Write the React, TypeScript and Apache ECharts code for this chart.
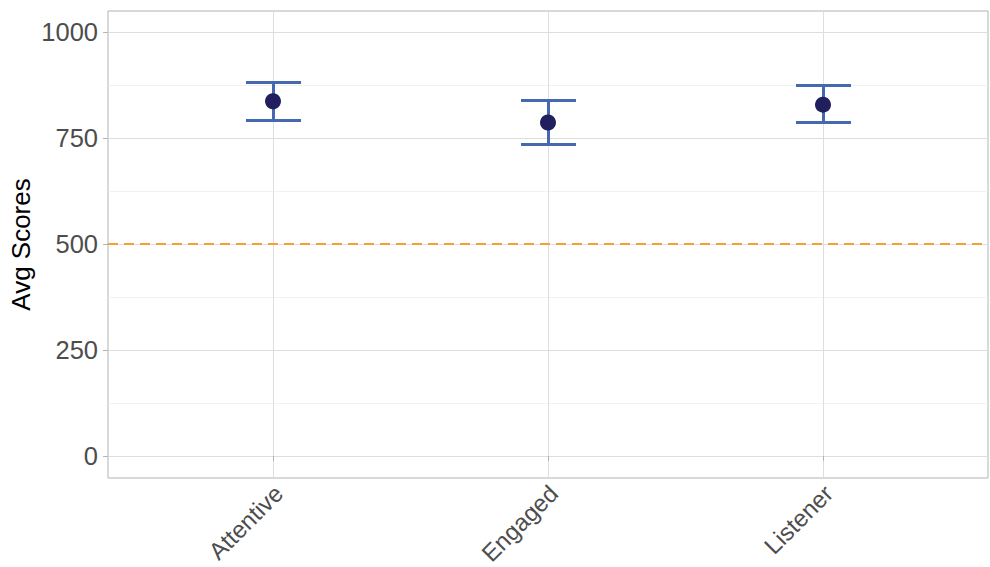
import React, { useEffect, useRef } from "react";
import * as echarts from "echarts";

const categories = ["Attentive", "Engaged", "Listener"];
const categoryPositions = [1, 2, 3];
const avgScores = [837, 787, 829];
const lowerBounds = [792, 736, 786];
const upperBounds = [882, 838, 874];
const yTicks = [0, 250, 500, 750, 1000];
const yMinorTicks = [125, 375, 625, 875];
const referenceValue = 500;

const FONT = "'Liberation Sans', Arial, sans-serif";

export default function App() {
  const ref = useRef<HTMLDivElement>(null);
  useEffect(() => {
    if (!ref.current) return;
    const chart = echarts.init(ref.current, null, { renderer: "svg" });
    const majorLine = { color: "#dedede", width: 1, type: "solid" };
    const minorLine = { color: "#ececec", width: 0.7, type: "solid" };
    const gridMarks: any[] = [
      ...yMinorTicks.map((v) => ({ yAxis: v, lineStyle: minorLine })),
      ...yTicks.map((v) => ({ yAxis: v, lineStyle: majorLine })),
      ...categoryPositions.map((v) => ({ xAxis: v, lineStyle: majorLine })),
    ];
    const errData = categoryPositions.map((x, i) => [x, lowerBounds[i], upperBounds[i]]);
    const pointData = categoryPositions.map((x, i) => [x, avgScores[i]]);
    chart.setOption({
      animation: false,
      textStyle: { fontFamily: FONT },
      grid: {
        left: 108,
        right: 2,
        top: 11,
        bottom: 89,
        show: true,
        borderColor: "#b3b3b3",
        borderWidth: 1,
        backgroundColor: "transparent",
        containLabel: false,
        outerBoundsMode: "none",
      },
      xAxis: {
        type: "value",
        min: 0.4,
        max: 3.6,
        axisLine: { show: false },
        splitLine: { show: false },
        axisTick: {
          show: true,
          customValues: categoryPositions,
          length: 5,
          lineStyle: { color: "#b3b3b3" },
        },
        axisLabel: {
          customValues: categoryPositions,
          formatter: (v: number) => categories[Math.round(v) - 1] ?? "",
          rotate: 45,
          fontSize: 24,
          color: "#4d4d4d",
          fontFamily: FONT,
          margin: 0,
          align: "right",
          verticalAlign: "top",
          padding: [0, 4, 0, 0],
        },
      },
      yAxis: {
        type: "value",
        min: -52,
        max: 1050,
        name: "Avg Scores",
        nameLocation: "middle",
        nameRotate: 90,
        nameGap: 74,
        nameMoveOverlap: false,
        nameTextStyle: { fontSize: 26, color: "#000000", fontFamily: FONT },
        axisLine: { show: false },
        splitLine: { show: false },
        axisTick: {
          show: true,
          customValues: yTicks,
          length: 5,
          lineStyle: { color: "#b3b3b3" },
        },
        axisLabel: {
          customValues: yTicks,
          formatter: (v: number) => String(v),
          fontSize: 25.5,
          color: "#4d4d4d",
          fontFamily: FONT,
          margin: 10,
        },
      },
      series: [
        {
          type: "line",
          data: [],
          silent: true,
          z: 0,
          markLine: {
            silent: true,
            z: 0,
            symbol: "none",
            label: { show: false },
            animation: false,
            data: gridMarks,
          },
        },
        {
          type: "line",
          data: [],
          silent: true,
          z: 1,
          markLine: {
            silent: true,
            z: 1,
            symbol: "none",
            label: { show: false },
            animation: false,
            lineStyle: { color: "#f5a132", width: 2.2, type: [10, 6] },
            data: [{ yAxis: referenceValue }],
          },
        },
        {
          type: "custom",
          z: 2,
          data: errData,
          renderItem: (params: any, api: any) => {
            const x = api.value(0);
            const lo = api.value(1);
            const hi = api.value(2);
            const pLo = api.coord([x, lo]);
            const pHi = api.coord([x, hi]);
            const pL = api.coord([x - 0.1, hi]);
            const pR = api.coord([x + 0.1, hi]);
            const left = Math.round(pL[0]);
            const right = Math.round(pR[0]);
            const stemX = Math.round(pHi[0] - 1.5);
            const topY = Math.round(pHi[1] - 1.5);
            const botY = Math.round(pLo[1] - 1.5);
            const style = { fill: "#4568b0", stroke: "none" };
            return {
              type: "group",
              children: [
                { type: "rect", shape: { x: stemX, y: topY, width: 3, height: botY - topY + 3 }, style },
                { type: "rect", shape: { x: left, y: topY, width: right - left, height: 3 }, style },
                { type: "rect", shape: { x: left, y: botY, width: right - left, height: 3 }, style },
              ],
            };
          },
        },
        {
          type: "scatter",
          z: 3,
          data: pointData,
          symbol: "circle",
          symbolSize: 16,
          itemStyle: { color: "#221f5e", opacity: 1 },
        },
      ],
    });
    return () => chart.dispose();
  }, []);
  return (
    <div
      ref={ref}
      style={{ position: "fixed", left: 0, top: 0, width: 990, height: 567, background: "#ffffff" }}
    />
  );
}
